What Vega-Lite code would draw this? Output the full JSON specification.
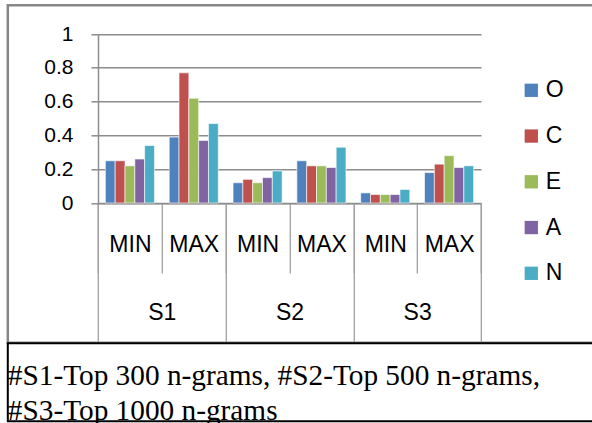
{
  "$schema": "https://vega.github.io/schema/vega-lite/v6.json",
  "autosize": {"type": "none"},
  "padding": {"left": 7.8, "top": 5.3, "right": 584.2, "bottom": 417.7},
  "background": "white",
  "bounds": "flush",
  "spacing": 0,
  "config": {
    "font": "Liberation Sans",
    "view": {"stroke": null}
  },
  "datasets": {
    "scores": [
      {"grp": "S1", "cell": "S1 MIN", "trait": "O", "value": 0.25},
      {"grp": "S1", "cell": "S1 MIN", "trait": "C", "value": 0.25},
      {"grp": "S1", "cell": "S1 MIN", "trait": "E", "value": 0.22},
      {"grp": "S1", "cell": "S1 MIN", "trait": "A", "value": 0.26},
      {"grp": "S1", "cell": "S1 MIN", "trait": "N", "value": 0.34},
      {"grp": "S1", "cell": "S1 MAX", "trait": "O", "value": 0.39},
      {"grp": "S1", "cell": "S1 MAX", "trait": "C", "value": 0.77},
      {"grp": "S1", "cell": "S1 MAX", "trait": "E", "value": 0.62},
      {"grp": "S1", "cell": "S1 MAX", "trait": "A", "value": 0.37},
      {"grp": "S1", "cell": "S1 MAX", "trait": "N", "value": 0.47},
      {"grp": "S2", "cell": "S2 MIN", "trait": "O", "value": 0.12},
      {"grp": "S2", "cell": "S2 MIN", "trait": "C", "value": 0.14},
      {"grp": "S2", "cell": "S2 MIN", "trait": "E", "value": 0.12},
      {"grp": "S2", "cell": "S2 MIN", "trait": "A", "value": 0.15},
      {"grp": "S2", "cell": "S2 MIN", "trait": "N", "value": 0.19},
      {"grp": "S2", "cell": "S2 MAX", "trait": "O", "value": 0.25},
      {"grp": "S2", "cell": "S2 MAX", "trait": "C", "value": 0.22},
      {"grp": "S2", "cell": "S2 MAX", "trait": "E", "value": 0.22},
      {"grp": "S2", "cell": "S2 MAX", "trait": "A", "value": 0.21},
      {"grp": "S2", "cell": "S2 MAX", "trait": "N", "value": 0.33},
      {"grp": "S3", "cell": "S3 MIN", "trait": "O", "value": 0.06},
      {"grp": "S3", "cell": "S3 MIN", "trait": "C", "value": 0.05},
      {"grp": "S3", "cell": "S3 MIN", "trait": "E", "value": 0.05},
      {"grp": "S3", "cell": "S3 MIN", "trait": "A", "value": 0.05},
      {"grp": "S3", "cell": "S3 MIN", "trait": "N", "value": 0.08},
      {"grp": "S3", "cell": "S3 MAX", "trait": "O", "value": 0.18},
      {"grp": "S3", "cell": "S3 MAX", "trait": "C", "value": 0.23},
      {"grp": "S3", "cell": "S3 MAX", "trait": "E", "value": 0.28},
      {"grp": "S3", "cell": "S3 MAX", "trait": "A", "value": 0.21},
      {"grp": "S3", "cell": "S3 MAX", "trait": "N", "value": 0.22}
    ]
  },
  "vconcat": [
    {
      "width": 600,
      "height": 337.4,
      "view": {"stroke": "#878787", "strokeWidth": 2.5},
      "data": {"name": "scores"},
      "layer": [
        {
          "mark": {"type": "bar", "stroke": "white", "strokeWidth": 0.6},
          "encoding": {
            "x": {
              "field": "cell",
              "type": "nominal",
              "scale": {
                "domain": ["S1 MIN", "S1 MAX", "S2 MIN", "S2 MAX", "S3 MIN", "S3 MAX"],
                "range": [90.2, 473.2],
                "paddingInner": 0,
                "paddingOuter": 0
              },
              "axis": {
                "orient": "bottom",
                "offset": -139.7,
                "title": null,
                "domain": true,
                "domainColor": "#8c8c8c",
                "domainWidth": 1.5,
                "ticks": true,
                "tickBand": "extent",
                "tickSize": 70,
                "tickColor": "#a0a0a0",
                "tickWidth": 1.3,
                "grid": false,
                "labelExpr": "split(datum.value, ' ')[1]",
                "labelFont": "Liberation Sans",
                "labelFontSize": 23,
                "labelColor": "black",
                "labelBaseline": "middle",
                "labelPadding": -29,
                "labelAngle": 0,
                "labelOverlap": false,
                "labelBound": false
              }
            },
            "xOffset": {
              "field": "trait",
              "type": "nominal",
              "scale": {"domain": ["O", "C", "E", "A", "N"], "paddingInner": 0, "paddingOuter": 0.75}
            },
            "y": {
              "field": "value",
              "type": "quantitative",
              "scale": {"domain": [0, 1], "range": [197.7, 28.7], "nice": false},
              "axis": {
                "orient": "left",
                "offset": -90.2,
                "title": null,
                "values": [0, 0.2, 0.4, 0.6, 0.8, 1],
                "format": "~g",
                "domain": true,
                "domainColor": "#8c8c8c",
                "domainWidth": 1.5,
                "ticks": true,
                "tickSize": 7,
                "tickColor": "#8c8c8c",
                "tickWidth": 1.5,
                "grid": true,
                "gridColor": "#8c8c8c",
                "gridWidth": 1.5,
                "labelFont": "Liberation Sans",
                "labelFontSize": 21,
                "labelColor": "black",
                "labelPadding": 18
              }
            },
            "color": {
              "field": "trait",
              "type": "nominal",
              "scale": {
                "domain": ["O", "C", "E", "A", "N"],
                "range": ["#4f81bd", "#c0504d", "#9bbb59", "#8064a2", "#4bacc6"]
              },
              "legend": {
                "orient": "none",
                "legendX": 512,
                "legendY": 73.5,
                "title": null,
                "padding": 0,
                "symbolType": "square",
                "symbolSize": 177,
                "symbolStrokeWidth": 0,
                "symbolOpacity": 1,
                "labelFont": "Liberation Sans",
                "labelFontSize": 23,
                "labelColor": "black",
                "labelOffset": 3,
                "labelExpr": "datum.label == 'O' ? '\u00a0O' : datum.label",
                "rowPadding": 21.75
              }
            }
          }
        },
        {
          "mark": {"type": "point", "opacity": 0},
          "encoding": {
            "x": {
              "field": "grp",
              "type": "nominal",
              "scale": {
                "domain": ["S1", "S2", "S3"],
                "range": [90.2, 473.2],
                "paddingInner": 0,
                "paddingOuter": 0
              },
              "axis": {
                "orient": "bottom",
                "offset": -139.7,
                "title": null,
                "domain": false,
                "ticks": true,
                "tickBand": "extent",
                "tickSize": 139.7,
                "tickColor": "#a0a0a0",
                "tickWidth": 1.3,
                "grid": false,
                "labelFont": "Liberation Sans",
                "labelFontSize": 23,
                "labelColor": "black",
                "labelBaseline": "middle",
                "labelPadding": -30.7,
                "labelAngle": 0,
                "labelOverlap": false,
                "labelBound": false
              }
            },
            "y": {"field": "value", "type": "quantitative"}
          }
        }
      ],
      "resolve": {"scale": {"x": "independent"}, "axis": {"x": "independent"}}
    },
    {
      "width": 600,
      "height": 78,
      "data": {"values": [{}]},
      "mark": {"type": "rect", "fill": "transparent", "stroke": "black", "strokeWidth": 2},
      "encoding": {},
      "title": {
        "text": ["#S1-Top 300 n-grams, #S2-Top 500 n-grams,", "#S3-Top 1000 n-grams"],
        "anchor": "start",
        "frame": "group",
        "orient": "top",
        "offset": -107.3,
        "baseline": "alphabetic",
        "font": "Liberation Serif",
        "fontSize": 29.3,
        "fontWeight": "normal",
        "lineHeight": 35,
        "color": "black"
      }
    }
  ]
}
